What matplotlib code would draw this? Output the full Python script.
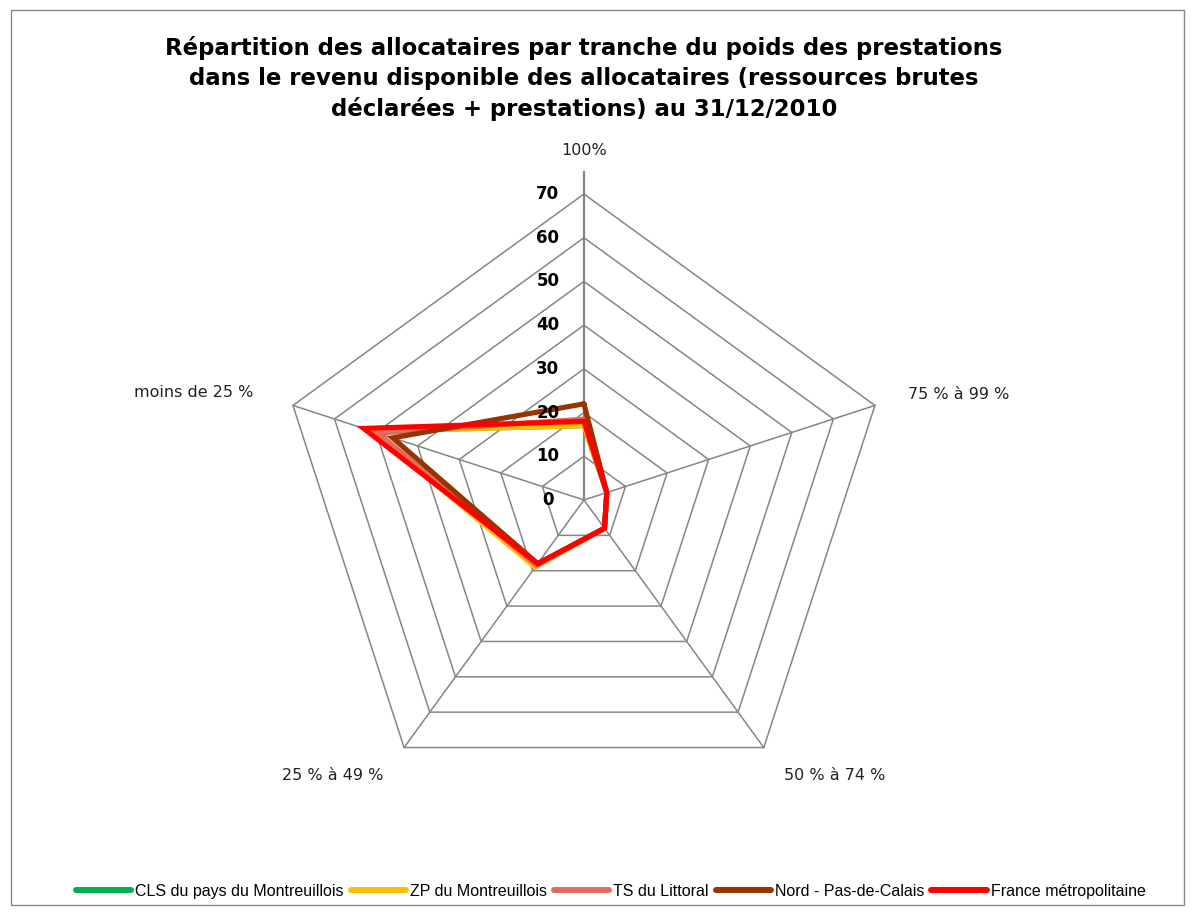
import numpy as np
import matplotlib
matplotlib.use("Agg")
import matplotlib.pyplot as plt
from matplotlib.patches import Rectangle
from matplotlib.transforms import offset_copy

categories = ["100%", "75 % à 99 %", "50 % à 74 %", "25 % à 49 %", "moins de 25 %"]
series_names = ["CLS du pays du Montreuillois", "ZP du Montreuillois", "TS du Littoral",
                "Nord - Pas-de-Calais", "France métropolitaine"]
cls_vals = [17, 5.5, 8, 18.5, 51]
zp_vals = [17, 5.5, 8, 19, 51]
ts_vals = [18.5, 5.5, 8, 18.5, 49.5]
npdc_vals = [22, 5.5, 8, 18, 46]
france_vals = [18, 5.5, 8, 18, 53]
colors = ["#00B050", "#FFC000", "#E26B5A", "#993300", "#FF0000"]
levels = [0, 10, 20, 30, 40, 50, 60, 70]

title = ("Répartition des allocataires par tranche du poids des prestations\n"
         "dans le revenu disponible des allocataires (ressources brutes\n"
         "déclarées + prestations) au 31/12/2010")

fig = plt.figure(figsize=(11.95, 9.16), dpi=100)
fig.add_artist(Rectangle((0.009, 0.012), 0.982, 0.977, transform=fig.transFigure,
                         fill=False, edgecolor="#868686", linewidth=1))

ax = fig.add_axes([0.2326, 0.1201, 0.5121, 0.6681], projection="polar")
ax.set_theta_zero_location("N")
ax.set_theta_direction(-1)
ax.set_ylim(0, 70)
ax.grid(False)
ax.spines["polar"].set_visible(False)
ax.set_xticks([])
ax.set_yticks([])
ax.patch.set_alpha(0)

n = len(categories)
theta = np.arange(n) * 2 * np.pi / n
theta_closed = np.append(theta, theta[0])

grid_col = "#868686"
for lv in levels[1:]:
    ax.plot(theta_closed, [lv] * (n + 1), color=grid_col, lw=1.1, zorder=1, clip_on=False)
for i, t in enumerate(theta):
    top = 75 if i == 0 else 70
    ax.plot([t, t], [0, top], color=grid_col, lw=1.6 if i == 0 else 1.1, zorder=1, clip_on=False)

all_vals = [cls_vals, zp_vals, ts_vals, npdc_vals, france_vals]
for name, vals, c in zip(series_names, all_vals, colors):
    v = np.append(vals, vals[0])
    ax.plot(theta_closed, v, color=c, lw=3.7, label=name, zorder=3,
            solid_joinstyle="miter", solid_capstyle="round", clip_on=False)

# radial tick labels along the top spoke
tick_tr = offset_copy(ax.transData, fig=fig, x=-36, y=0, units="dots")
for lv in levels:
    ax.text(0, lv, str(lv), transform=tick_tr, ha="center", va="center",
            fontsize=12, fontweight="bold", color="black", zorder=4)

# category labels
label_pos = [(80, "center"), (78, "left"), (78, "left"), (78, "right"), (79.5, "right")]
for t, cat, (r, ha) in zip(theta, categories, label_pos):
    ax.text(t, r, cat, ha=ha, va="center", fontsize=11.5, color="#222222")

fig.text(0.4887, 0.961, title, ha="center", va="top", fontsize=16.4,
         fontweight="bold", linespacing=1.38)

leg = fig.legend(*ax.get_legend_handles_labels(), loc="center", bbox_to_anchor=(0.511, 0.027),
                 ncol=5, frameon=False, handlelength=3.45, handletextpad=0.25,
                 columnspacing=0.45, prop={"family": "Liberation Sans", "size": 11.5})
for h in leg.get_lines():
    h.set_linewidth(4.3)

fig.savefig("out.png", dpi=100)
